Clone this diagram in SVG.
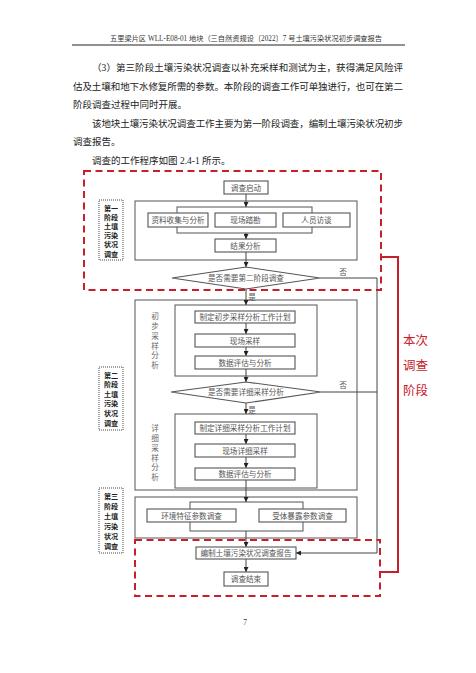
<svg xmlns="http://www.w3.org/2000/svg" width="476" height="673" viewBox="0 0 476 673">
<style>
.body{font-family:"Liberation Serif","Noto Sans CJK SC",serif;font-size:9.5px;fill:#222}
.hdr{font-family:"Liberation Serif","Noto Sans CJK SC",serif;font-size:7.4px;fill:#333}
.bx{fill:#fff;stroke:#555;stroke-width:1.1}
.frame{fill:none;stroke:#555;stroke-width:1}
.t{font-family:"Liberation Serif","Noto Sans CJK SC",serif;font-size:7.6px;fill:#555;text-anchor:middle}
.vt{font-family:"Liberation Serif","Noto Sans CJK SC",serif;font-size:7.6px;fill:#666;text-anchor:middle}
.lab{fill:#fff;stroke:#333;stroke-width:0.9;stroke-dasharray:1,1}
.lt{font-family:"Noto Sans CJK SC",sans-serif;font-size:7.1px;font-weight:bold;fill:#222;text-anchor:middle}
.rd{fill:none;stroke:#c8202a;stroke-width:2;stroke-dasharray:7,4.5}
.rs{fill:none;stroke:#c8202a;stroke-width:2}
.rt{font-family:"Liberation Serif","Noto Sans CJK SC",serif;font-size:12.5px;fill:#c8202a}
.ln{fill:none;stroke:#444;stroke-width:1}
</style>
<defs>
<marker id="ah" viewBox="0 0 10 10" refX="10" refY="5" markerWidth="5" markerHeight="5" orient="auto" markerUnits="userSpaceOnUse"><path d="M0,0 L10,5 L0,10 z" fill="#222"/></marker>
</defs>
<g id="page-text">
<text class="hdr" x="110" y="40.5" textLength="272" lengthAdjust="spacingAndGlyphs">五里梁片区 WLL-E08-01 地块（三自然资规设〔2022〕7 号土壤污染状况初步调查报告</text>
<line x1="72" y1="45" x2="405" y2="45" stroke="#222" stroke-width="1"/>
<text class="body" x="92" y="70.5" textLength="311" lengthAdjust="spacing">（3）第三阶段土壤污染状况调查以补充采样和测试为主，获得满足风险评</text>
<text class="body" x="73" y="89.5" textLength="330" lengthAdjust="spacing">估及土壤和地下水修复所需的参数。本阶段的调查工作可单独进行，也可在第二</text>
<text class="body" x="73" y="107.5">阶段调查过程中同时开展。</text>
<text class="body" x="92" y="126.5" textLength="311" lengthAdjust="spacing">该地块土壤污染状况调查工作主要为第一阶段调查，编制土壤污染状况初步</text>
<text class="body" x="73" y="144.5">调查报告。</text>
<text class="body" x="92" y="163.5">调查的工作程序如图 2.4-1 所示。</text>
<text class="hdr" x="245" y="625" text-anchor="middle">7</text>
</g>
<g id="frames">
<rect class="frame" x="135" y="201" width="222" height="59"/>
<rect class="frame" x="177" y="207" width="135" height="26"/>
<rect class="frame" x="135" y="300" width="222" height="190"/>
<rect class="frame" x="175" y="305" width="142" height="71"/>
<rect class="frame" x="175" y="414" width="142" height="74"/>
<rect class="frame" x="135" y="497" width="222" height="41"/>
<rect class="frame" x="190" y="502" width="113" height="29"/>
</g>
<g id="connectors">
<line class="ln" x1="246" y1="194" x2="246" y2="207" marker-end="url(#ah)"/>
<line class="ln" x1="246" y1="233" x2="246" y2="239" marker-end="url(#ah)"/>
<line class="ln" x1="246" y1="252" x2="246" y2="267" marker-end="url(#ah)"/>
<line class="ln" x1="246" y1="289" x2="246" y2="305" marker-end="url(#ah)"/>
<line class="ln" x1="246" y1="323" x2="246" y2="334" marker-end="url(#ah)"/>
<line class="ln" x1="246" y1="347" x2="246" y2="356" marker-end="url(#ah)"/>
<line class="ln" x1="246" y1="369" x2="246" y2="382" marker-end="url(#ah)"/>
<line class="ln" x1="246" y1="403" x2="246" y2="414" marker-end="url(#ah)"/>
<line class="ln" x1="246" y1="434" x2="246" y2="444" marker-end="url(#ah)"/>
<line class="ln" x1="246" y1="457" x2="246" y2="468" marker-end="url(#ah)"/>
<line class="ln" x1="246" y1="480" x2="246" y2="502" marker-end="url(#ah)"/>
<line class="ln" x1="246" y1="531" x2="246" y2="547" marker-end="url(#ah)"/>
<line class="ln" x1="246" y1="559" x2="246" y2="572" marker-end="url(#ah)"/>
<path class="ln" d="M320,278 H377 V553 H296" marker-end="url(#ah)"/>
<line class="ln" x1="321" y1="392" x2="377" y2="392"/>
<text class="t" x="252" y="300">是</text>
<text class="t" x="252" y="413">是</text>
<text class="t" x="343" y="275">否</text>
<text class="t" x="343" y="388">否</text>
</g>
<g id="n-start"><rect class="bx" x="224" y="181" width="44" height="13"/><text class="t" x="246" y="190.5">调查启动</text></g>
<g id="n-collect"><rect class="bx" x="148" y="213" width="60" height="14"/><text class="t" x="178" y="223">资料收集与分析</text></g>
<g id="n-survey"><rect class="bx" x="215" y="213" width="61" height="14"/><text class="t" x="245.5" y="223">现场踏勘</text></g>
<g id="n-interview"><rect class="bx" x="283" y="213" width="67" height="14"/><text class="t" x="316.5" y="223">人员访谈</text></g>
<g id="n-result"><rect class="bx" x="215" y="239" width="61" height="13"/><text class="t" x="245.5" y="248.5">结果分析</text></g>
<g id="d-stage2"><polygon class="bx" points="172,278 246,267 320,278 246,289"/><text class="t" x="246" y="281">是否需要第二阶段调查</text></g>
<g id="v-prelim"><text class="vt" x="155" y="319">初</text><text class="vt" x="155" y="329">步</text><text class="vt" x="155" y="339">采</text><text class="vt" x="155" y="348.5">样</text><text class="vt" x="155" y="358">分</text><text class="vt" x="155" y="368">析</text></g>
<g id="n-plan1"><rect class="bx" x="195" y="311" width="100" height="12"/><text class="t" x="245" y="320">制定初步采样分析工作计划</text></g>
<g id="n-sample1"><rect class="bx" x="195" y="334" width="100" height="13"/><text class="t" x="245" y="343.5">现场采样</text></g>
<g id="n-eval1"><rect class="bx" x="195" y="356" width="100" height="13"/><text class="t" x="245" y="365.5">数据评估与分析</text></g>
<g id="d-detail"><polygon class="bx" points="171,392 246,382 321,392 246,403"/><text class="t" x="246" y="395">是否需要详细采样分析</text></g>
<g id="v-detail"><text class="vt" x="155" y="431">详</text><text class="vt" x="155" y="441">细</text><text class="vt" x="155" y="451">采</text><text class="vt" x="155" y="460.5">样</text><text class="vt" x="155" y="470">分</text><text class="vt" x="155" y="480">析</text></g>
<g id="n-plan2"><rect class="bx" x="195" y="422" width="100" height="12"/><text class="t" x="245" y="431">制定详细采样分析工作计划</text></g>
<g id="n-sample2"><rect class="bx" x="195" y="444" width="100" height="13"/><text class="t" x="245" y="453.5">现场详细采样</text></g>
<g id="n-eval2"><rect class="bx" x="195" y="468" width="100" height="12"/><text class="t" x="245" y="477">数据评估与分析</text></g>
<g id="n-env"><rect class="bx" x="147" y="509" width="89" height="13"/><text class="t" x="191.5" y="518.5">环境特征参数调查</text></g>
<g id="n-receptor"><rect class="bx" x="259" y="509" width="87" height="13"/><text class="t" x="302.5" y="518.5">受体暴露参数调查</text></g>
<g id="n-report"><rect class="bx" x="196" y="547" width="100" height="12"/><text class="t" x="246" y="556">编制土壤污染状况调查报告</text></g>
<g id="n-end"><rect class="bx" x="224" y="572" width="44" height="14"/><text class="t" x="246" y="582">调查结束</text></g>
<g id="label-stage1"><rect class="lab" x="99" y="200" width="24" height="60"/>
<text class="lt" x="111" y="210.6">第一</text><text class="lt" x="111" y="219.8">阶段</text><text class="lt" x="111" y="229">土壤</text><text class="lt" x="111" y="238.2">污染</text><text class="lt" x="111" y="247.4">状况</text><text class="lt" x="111" y="256.6">调查</text></g>
<g id="label-stage2"><rect class="lab" x="99" y="367" width="24" height="63"/>
<text class="lt" x="111" y="377.6">第二</text><text class="lt" x="111" y="387.2">阶段</text><text class="lt" x="111" y="396.8">土壤</text><text class="lt" x="111" y="406.4">污染</text><text class="lt" x="111" y="416">状况</text><text class="lt" x="111" y="425.6">调查</text></g>
<g id="label-stage3"><rect class="lab" x="99" y="488" width="24" height="65"/>
<text class="lt" x="111" y="498.6">第三</text><text class="lt" x="111" y="508.6">阶段</text><text class="lt" x="111" y="518.6">土壤</text><text class="lt" x="111" y="528.6">污染</text><text class="lt" x="111" y="538.6">状况</text><text class="lt" x="111" y="548.6">调查</text></g>
<g id="scope">
<rect class="rd" x="84" y="171" width="297" height="119"/>
<rect class="rd" x="135" y="540" width="245" height="56"/>
<path class="rs" d="M381,257 H398 V572 H381"/>
<text class="rt" x="403" y="345">本次</text>
<text class="rt" x="403" y="370">调查</text>
<text class="rt" x="403" y="395">阶段</text>
</g>
</svg>
